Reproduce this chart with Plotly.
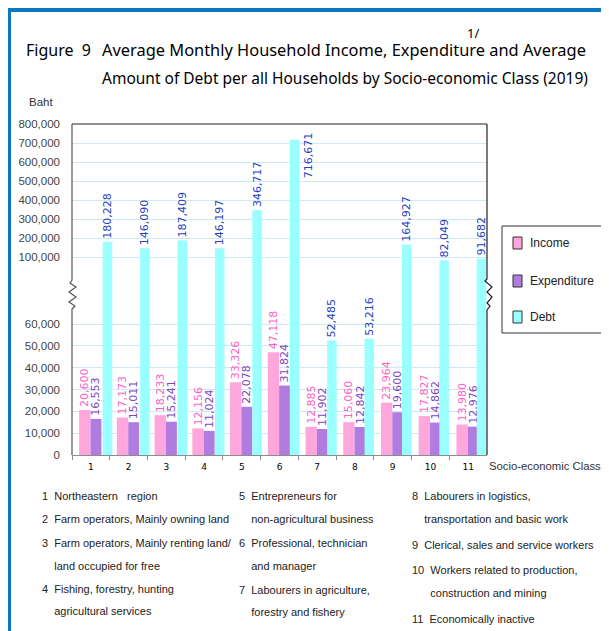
import plotly.graph_objects as go

# Page body adds an 8px margin; figure is sized so that it fills the window.
OFF = 8
W, H = 609 - OFF, 631 - OFF

classes = ["1", "2", "3", "4", "5", "6", "7", "8", "9", "10", "11"]
income = [20600, 17173, 18233, 12156, 33326, 47118, 12885, 15060, 23964, 17827, 13980]
expenditure = [16553, 15011, 15241, 11024, 22078, 31824, 11902, 12842, 19600, 14862, 12976]
debt = [180228, 146090, 187409, 146197, 346717, 716671, 52485, 53216, 164927, 82049, 91682]

low_ticks = [0, 10000, 20000, 30000, 40000, 50000, 60000]
high_ticks = [0, 100000, 200000, 300000, 400000, 500000, 600000, 700000, 800000]
BREAK = 82000      # top of lower panel scale
TOPMAX = 800000
SIDE_LABEL = 560000  # labels of taller bars are put beside the bar

notes = [
    ["1  Northeastern   region", "2  Farm operators, Mainly owning land",
     "3  Farm operators, Mainly renting land/", "    land occupied for free",
     "4  Fishing, forestry, hunting", "    agricultural services"],
    ["5  Entrepreneurs for", "    non-agricultural business", "6  Professional, technician",
     "    and manager", "7  Labourers in agriculture,", "    forestry and fishery"],
    ["8  Labourers in logistics,", "    transportation and basic work",
     "9  Clerical, sales and service workers", "10  Workers related to production,",
     "      construction and mining", "11  Economically inactive"],
]


def X(px):
    return (px - OFF) / W


def Y(py):
    return 1 - (py - OFF) / H


C_INC, C_EXP, C_DEBT = "#FFA6DC", "#B07CE0", "#99FFFF"
T_INC, T_EXP, T_DEBT = "#FF5FC8", "#7F45C0", "#2442C0"
LBL = dict(family="DejaVu Sans", size=11)

# debt series sits on its own (slightly narrower-spaced) category scale
debt_pos = [int(c) for c in classes]
DEBT_RANGE = [0.051, 11.147]
DEBT_W = 0.254

fig = go.Figure()

common = dict(textposition="outside", textangle=-90, cliponaxis=False, constraintext="none",
              showlegend=False)
fig.add_trace(go.Bar(x=classes, y=income, offset=-0.31, width=0.3, marker_color=C_INC,
                     text=[f"{v:,}" for v in income], textfont=dict(color=T_INC, **LBL),
                     name="Income", **common))
fig.add_trace(go.Bar(x=classes, y=expenditure, offset=-0.01, width=0.29, marker_color=C_EXP,
                     text=[f"{v:,}" for v in expenditure], textfont=dict(color=T_EXP, **LBL),
                     name="Expenditure", **common))
# Debt on lower panel (clipped at top of panel)
fig.add_trace(go.Bar(x=debt_pos, y=debt, xaxis="x3", yaxis="y", width=DEBT_W, marker_color=C_DEBT,
                     text=[f"{v:,}" if v < BREAK else "" for v in debt],
                     textfont=dict(color=T_DEBT, **LBL), name="Debt", **common))
# Debt on upper panel
fig.add_trace(go.Bar(x=debt_pos, y=[v if v >= BREAK else None for v in debt], xaxis="x2", yaxis="y2",
                     width=DEBT_W, marker_color=C_DEBT,
                     text=[f"{v:,}" if BREAK <= v < SIDE_LABEL else "" for v in debt],
                     textfont=dict(color=T_DEBT, **LBL), name="Debt", **common))

tickfont = dict(family="Liberation Sans", size=11.5, color="#444444")
grid = "#CDEAF3"

fig.update_layout(
    width=W, height=H, template="none", barmode="overlay",
    margin=dict(l=0, r=0, t=0, b=0), paper_bgcolor="white", plot_bgcolor="rgba(0,0,0,0)",
    showlegend=False,
    xaxis=dict(domain=[X(72), X(487)], anchor="y", type="category", showgrid=False,
               showline=True, linecolor="#8C8C8C", linewidth=1, ticks="outside",
               tickson="boundaries", ticklen=4, tickcolor="#8C8C8C", ticklabelstandoff=3,
               tickfont=dict(family="DejaVu Sans", size=9, color="black"), automargin=False,
               zeroline=False),
    xaxis2=dict(domain=[X(72), X(487)], anchor="y2", range=DEBT_RANGE, visible=False),
    xaxis3=dict(domain=[X(72), X(487)], anchor="y", overlaying="x", range=DEBT_RANGE, visible=False),
    yaxis=dict(domain=[Y(455), Y(276)], range=[0, BREAK], tickvals=low_ticks,
               ticktext=[f"{v:,}" for v in low_ticks], showgrid=True, gridcolor=grid,
               gridwidth=1, zeroline=False, showline=False, ticks="", tickfont=tickfont,
               ticklabelstandoff=11, automargin=False),
    yaxis2=dict(domain=[Y(276), Y(124)], range=[0, TOPMAX], anchor="x2", tickvals=high_ticks,
                ticktext=["" if v == 0 else f"{v:,}" for v in high_ticks], showgrid=True,
                gridcolor=grid, gridwidth=1, zeroline=False, showline=False, ticks="",
                tickfont=tickfont, ticklabelstandoff=11, automargin=False),
)

shapes = []
blue = "#0B78BF"
# page frame
shapes.append(dict(type="rect", xref="paper", yref="paper", x0=X(7), x1=X(609), y0=Y(12), y1=Y(8),
                   fillcolor=blue, line_width=0, layer="below"))
shapes.append(dict(type="rect", xref="paper", yref="paper", x0=X(7), x1=X(11), y0=Y(631), y1=Y(8),
                   fillcolor=blue, line_width=0, layer="below"))
# plot frame
shapes.append(dict(type="line", xref="paper", yref="paper", x0=X(72), x1=X(487), y0=Y(124), y1=Y(124),
                   line=dict(color="#222222", width=1)))


def path(pts):
    return "M " + " L ".join(f"{X(a):.5f},{Y(b):.5f}" for a, b in pts)


left = [(72, 124), (72, 280), (70, 283), (76, 287), (69, 292), (76, 297), (69, 302), (75, 306),
        (72, 309), (72, 455)]
right = [(487, 124), (487, 279), (485, 281), (492, 287), (487, 292), (492, 297), (487, 303),
         (490, 306), (487, 310), (487, 455)]
shapes.append(dict(type="path", xref="paper", yref="paper", path=path(left),
                   line=dict(color="#555555", width=1.2)))
shapes.append(dict(type="path", xref="paper", yref="paper", path=path(right),
                   line=dict(color="#222222", width=1.2)))

# legend box
shapes.append(dict(type="rect", xref="paper", yref="paper", x0=X(502), x1=X(603), y0=Y(333), y1=Y(226),
                   line=dict(color="#333333", width=1), fillcolor="white"))
legend_items = [("Income", C_INC, 243), ("Expenditure", C_EXP, 281), ("Debt", C_DEBT, 317)]
annotations = []
for name, col, cy in legend_items:
    shapes.append(dict(type="rect", xref="paper", yref="paper", x0=X(513), x1=X(522),
                       y0=Y(cy + 6), y1=Y(cy - 6), line=dict(color="#333333", width=1),
                       fillcolor=col))
    annotations.append(dict(x=X(528), y=Y(cy), text=name,
                            font=dict(family="Liberation Sans", size=12, color="#222222")))

fig.update_layout(shapes=shapes)

# labels of very tall debt bars, placed beside the bar top
for k, v in zip(debt_pos, debt):
    if v >= SIDE_LABEL:
        annotations.append(dict(x=k, y=v, xref="x2", yref="y2", text=f"{v:,}", textangle=-90,
                                xanchor="center", yanchor="middle", xshift=14, yshift=-16,
                                font=dict(color=T_DEBT, **LBL)))

annotations += [
    dict(x=X(24), y=Y(50), text="Figure  9", font=dict(family="Noto Sans", size=16, color="black")),
    dict(x=X(100), y=Y(50), text="Average Monthly Household Income, Expenditure and Average",
         font=dict(family="Noto Sans", size=16.4, color="black")),
    dict(x=X(100), y=Y(78), text="Amount of Debt per all Households by Socio-economic Class (2019)",
         font=dict(family="Noto Sans", size=15.5, color="black")),
    dict(x=X(465), y=Y(33), text="1/", font=dict(family="Noto Sans", size=13, color="black")),
    dict(x=X(27), y=Y(102), text="Baht", font=dict(family="Liberation Sans", size=11.5, color="#333333")),
    dict(x=X(487), y=Y(466), text="Socio-economic Class",
         font=dict(family="Liberation Sans", size=11.3, color="#333333")),
]
col_x = [40, 237, 410]
row_y = [[496, 519, 543, 566, 589, 611], [496, 519, 543, 566, 590, 612], [496, 519, 545, 570, 593, 619]]
NF = dict(family="Liberation Sans", size=11, color="#222222")
for ci, col in enumerate(notes):
    for ri, line in enumerate(col):
        txt = line.replace(" ", "&nbsp;") if line.startswith(" ") else line
        annotations.append(dict(x=X(col_x[ci]), y=Y(row_y[ci][ri]), text=txt, font=NF))
for a in annotations:
    a.setdefault("xref", "paper")
    a.setdefault("yref", "paper")
    a.setdefault("showarrow", False)
    a.setdefault("xanchor", "left")
    a.setdefault("yanchor", "middle")
fig.update_layout(annotations=annotations)

fig.write_html("out.html")
